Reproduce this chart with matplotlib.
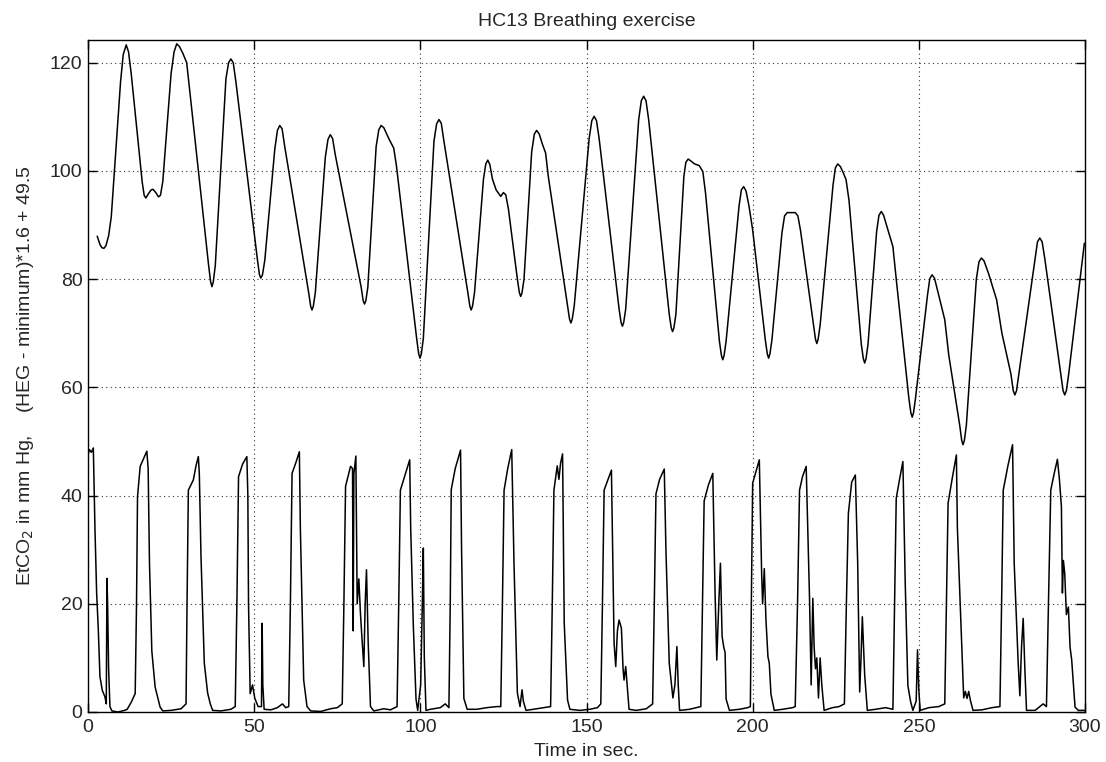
import matplotlib
matplotlib.use("Agg")
import matplotlib.pyplot as plt

plt.rcParams['font.family'] = ['Liberation Sans', 'DejaVu Sans']

title = "HC13 Breathing exercise"
xlabel = "Time in sec."
ylabel = r"EtCO$_2$ in mm Hg,    (HEG - minimum)*1.6 + 49.5"
xticks = [0, 50, 100, 150, 200, 250, 300]
yticks = [0, 20, 40, 60, 80, 100, 120]

heg_t = [2.8, 3.6, 4.2, 4.8, 5.4, 6.2, 7.0,
         9.8, 10.6, 11.5, 12.2, 13.0,
         16.3, 16.9, 17.4, 18.2, 19.0, 19.6, 20.4, 21.2, 21.8, 22.5,
         25.0, 25.9, 26.7, 27.5, 28.5, 29.7,
         36.3, 36.9, 37.3, 37.7, 38.3,
         41.5, 42.3, 43.0, 43.7, 44.5,
         51.0, 51.6, 52.0, 52.5, 53.2,
         56.2, 57.0, 57.7, 58.4, 59.2,
         66.4, 67.0, 67.4, 67.8, 68.4,
         71.4, 72.2, 72.9, 73.6, 74.4,
         82.2, 82.8, 83.2, 83.6, 84.2,
         86.7, 87.5, 88.2, 89.0, 90.5, 92.0, 92.8,
         98.9, 99.5, 99.9, 100.3, 100.9,
         104.1, 104.9, 105.6, 106.3, 107.1,
         114.3, 114.9, 115.3, 115.7, 116.3,
         119.0, 119.7, 120.3, 120.9, 121.7, 122.8, 124.2, 125.0, 125.7, 126.5,
         129.2, 129.8, 130.2, 130.6, 131.2,
         133.5, 134.3, 135.0, 135.8, 136.7, 137.7, 138.5,
         144.3, 144.9, 145.3, 145.7, 146.3,
         150.8, 151.6, 152.3, 153.0, 153.8,
         159.8, 160.4, 160.8, 161.2, 161.8,
         165.7, 166.5, 167.2, 167.9, 168.7,
         174.9, 175.5, 175.9, 176.3, 176.9,
         179.3, 179.9, 180.6, 181.5, 182.5, 183.9, 185.0, 185.8,
         190.0, 190.6, 191.0, 191.4, 192.0,
         195.9, 196.6, 197.3, 198.0, 198.9, 200.0,
         203.8, 204.4, 204.8, 205.2, 205.8,
         208.8, 209.6, 210.4, 212.8, 213.6, 214.4,
         218.3, 218.9, 219.3, 219.7, 220.3,
         224.2, 224.9, 225.6, 226.4, 227.3, 228.1, 229.0,
         232.7, 233.3, 233.7, 234.1, 234.7,
         237.3, 238.0, 238.7, 239.4, 240.5, 242.2, 243.2,
         247.0, 247.6, 248.0, 248.4, 249.0,
         252.6, 253.3, 254.0, 254.7, 255.8, 257.8, 259.0,
         262.3, 262.9, 263.3, 263.7, 264.3,
         267.3, 268.1, 268.8, 269.6, 271.0, 273.4, 275.0,
         277.7, 278.4, 278.9, 279.4, 280.1,
         285.0, 285.7, 286.4, 287.1, 287.9,
         292.7, 293.4, 293.9, 294.4, 295.1,
         299.8]
heg_v = [87.9, 86.4, 85.8, 85.7, 86.2, 88.0, 91.5,
         116.5, 121.5, 123.3, 122.0, 118.0,
         98.0, 95.5, 95.0, 95.8, 96.5, 96.6, 96.0, 95.2, 95.5, 98.0,
         118.0, 122.0, 123.5, 123.0, 121.8, 120.0,
         82.5, 79.5, 78.6, 79.5, 82.5,
         117.0, 120.0, 120.7, 120.0, 116.5,
         83.5, 80.8, 80.2, 80.8, 83.5,
         104.0, 107.5, 108.4, 107.8, 104.5,
         77.5, 75.0, 74.3, 75.0, 77.5,
         102.5, 105.8, 106.7, 106.0, 103.0,
         78.5, 76.0, 75.4, 76.0, 78.5,
         104.5, 107.6, 108.4, 108.0, 106.0, 104.2, 101.0,
         69.0, 66.2, 65.4, 66.2, 69.0,
         105.5, 108.7, 109.5, 108.8, 105.5,
         77.5, 75.0, 74.3, 75.0, 77.5,
         98.5, 101.3, 102.0, 101.2, 98.5, 96.5, 95.3, 96.0, 95.6, 93.0,
         80.0, 77.5, 76.8, 77.5, 80.0,
         103.5, 106.8, 107.5, 106.8, 105.0, 103.3, 99.0,
         75.0, 72.6, 71.9, 72.6, 75.0,
         106.0, 109.3, 110.1, 109.3, 106.0,
         74.5, 72.0, 71.3, 72.0, 74.5,
         109.5, 113.0, 113.8, 113.0, 109.5,
         73.5, 71.0, 70.3, 71.0, 73.5,
         99.0, 101.6, 102.2, 101.8, 101.3, 101.0, 99.9, 96.0,
         68.5, 65.9, 65.1, 65.9, 68.5,
         93.5, 96.5, 97.1, 96.3, 93.5, 89.1,
         68.8, 66.2, 65.4, 66.2, 68.8,
         88.5, 91.7, 92.3, 92.3, 91.7, 89.0,
         71.5, 68.9, 68.1, 68.9, 71.5,
         97.5, 100.6, 101.3, 100.8, 99.6, 98.4, 94.5,
         67.9, 65.3, 64.5, 65.3, 67.9,
         88.8, 91.8, 92.5, 91.8, 89.5, 86.0, 80.0,
         58.0, 55.3, 54.5, 55.3, 58.0,
         77.0, 80.1, 80.8, 80.2, 77.5, 72.5, 66.0,
         53.0, 50.2, 49.4, 50.2, 53.0,
         80.0, 83.2, 83.9, 83.4, 81.0, 76.2, 70.0,
         62.5, 59.4, 58.6, 59.4, 62.5,
         83.8, 86.9, 87.6, 86.9, 83.8,
         62.5, 59.4, 58.6, 59.4, 62.5,
         86.6]

co2_t = [0.0, 0.4, 1.0, 1.6, 2.1, 2.6, 3.1, 3.6, 4.3, 5.1, 5.5, 5.7, 5.9, 6.2, 6.6, 7.2, 9.0, 11.0, 11.8, 13.0, 14.2,
         14.6, 14.9, 15.7, 16.5, 17.7, 18.1, 18.5, 19.2, 20.2, 21.7, 22.5, 25.0, 28.0, 29.5,
         29.8, 30.2, 31.7, 32.5, 33.2, 33.5, 34.0, 35.0, 36.0, 36.8, 37.5, 40.0, 43.0, 44.3,
         44.8, 45.3, 46.5, 47.8, 48.1, 48.3, 48.8, 49.5, 50.2, 51.2, 52.2, 52.4, 52.6, 53.0, 55.0, 57.0, 58.5, 59.5, 60.4,
         60.9, 61.4, 62.5, 63.6, 63.9, 64.9, 65.9, 67.0, 70.0, 73.0, 75.0, 76.5,
         77.0, 77.5, 79.0, 79.6, 79.8, 80.0, 80.6, 81.0, 81.5, 82.0, 82.5, 83.0, 83.4, 83.8, 84.3, 85.0, 86.0, 89.0, 91.0, 93.0,
         93.5, 94.0, 95.5, 96.8, 97.1, 97.9, 98.7, 99.2, 100.1, 100.6, 100.9, 101.2, 101.7, 103.0, 106.0, 107.5, 108.6,
         109.0, 109.3, 110.5, 112.1, 112.4, 113.1, 114.1, 117.0, 120.0, 123.0, 124.2,
         124.7, 125.2, 126.3, 127.5, 128.2, 129.2, 130.0, 130.6, 131.0, 131.8, 134.0, 137.0, 139.2,
         139.7, 140.2, 141.2, 141.7, 142.2, 142.8, 143.3, 144.3, 145.0, 148.0, 151.0, 153.3, 154.3,
         154.8, 155.3, 156.5, 157.5, 158.3, 158.8, 159.3, 159.8, 160.5, 161.0, 161.3, 161.8, 162.8, 165.0, 168.0, 169.9,
         170.4, 170.9, 172.0, 173.4, 173.9, 174.9, 176.0, 176.6, 177.2, 177.6, 178.0, 181.0, 183.0, 184.4,
         184.9, 185.4, 186.7, 188.0, 188.7, 189.2, 189.8, 190.3, 190.8, 191.3, 191.7, 192.0, 193.0, 196.0, 198.5, 199.3,
         199.6, 200.0, 202.0, 202.7, 203.0, 203.5, 204.0, 204.6, 205.0, 205.5, 206.5, 209.0, 212.0, 212.8,
         213.5, 214.1, 215.0, 216.1, 217.1, 217.6, 218.1, 218.5, 218.9, 219.3, 219.8, 220.3, 220.8, 221.5, 224.0, 226.0, 227.6,
         228.2, 228.8, 229.8, 230.9, 231.6, 232.2, 232.6, 233.0, 233.7, 234.5, 237.0, 240.0, 242.2,
         242.7, 243.2, 244.2, 245.2, 245.9, 246.7, 247.5, 248.2, 249.2, 249.6, 250.0, 250.4, 253.0, 256.0, 257.8,
         258.3, 258.8, 260.0, 261.3, 261.6, 263.1, 263.5, 264.0, 264.5, 265.0, 265.5, 266.3, 269.0, 272.0, 274.4,
         274.9, 275.4, 276.8, 278.2, 278.7, 279.9, 280.4, 280.9, 281.4, 281.9, 282.4, 285.0, 287.4, 288.4,
         289.0, 289.7, 290.7, 291.7, 292.3, 292.9, 293.2, 293.5, 293.9, 294.4, 295.0, 295.5, 296.0, 297.0, 298.0, 300.0]
co2_v = [47.5, 48.5, 48.0, 48.8, 33.7, 22.0, 15.2, 6.5, 4.0, 2.8, 1.5, 24.7, 20.0, 8.0, 1.0, 0.2, 0.0, 0.3, 0.5, 1.8, 3.4,
         20.0, 39.8, 45.4, 46.5, 48.2, 45.0, 27.5, 11.3, 4.6, 0.9, 0.2, 0.3, 0.6, 1.5,
         20.0, 41.0, 42.9, 45.5, 47.2, 44.0, 28.7, 9.0, 3.5, 1.5, 0.3, 0.2, 0.5, 1.0,
         20.0, 43.5, 45.8, 47.2, 40.0, 20.0, 3.4, 5.0, 2.5, 1.0, 1.0, 16.4, 5.0, 0.5, 0.4, 0.8, 1.5, 0.8, 1.0,
         20.0, 44.1, 46.0, 48.1, 34.0, 5.9, 1.0, 0.2, 0.1, 0.6, 0.8, 1.5,
         20.0, 41.7, 45.4, 45.0, 15.0, 44.0, 47.3, 20.0, 24.6, 18.0, 13.0, 8.4, 20.0, 26.3, 13.0, 1.0, 0.2, 0.6, 0.4, 1.0,
         20.0, 41.0, 44.0, 46.6, 34.0, 15.8, 2.4, 0.3, 5.0, 20.0, 30.3, 10.0, 0.3, 0.5, 0.8, 1.5, 0.8,
         20.0, 41.1, 45.0, 48.4, 30.5, 2.5, 0.5, 0.5, 0.8, 1.0, 1.0,
         20.0, 41.0, 45.0, 48.5, 27.0, 3.5, 1.0, 4.1, 2.0, 0.3, 0.5, 0.8, 1.0,
         20.0, 41.0, 45.5, 43.0, 46.0, 47.7, 16.4, 2.2, 0.5, 0.3, 0.5, 0.8, 1.5,
         20.0, 41.0, 43.0, 44.7, 12.7, 8.4, 15.0, 17.0, 15.5, 8.0, 5.9, 8.4, 0.5, 0.3, 0.6, 1.5,
         20.0, 40.3, 43.0, 44.9, 30.0, 9.0, 2.6, 5.0, 12.1, 5.0, 0.3, 0.5, 0.8, 1.0,
         20.0, 39.0, 42.0, 44.1, 21.6, 9.6, 20.0, 27.5, 14.0, 12.0, 11.0, 2.4, 0.3, 0.5, 0.8, 1.0,
         20.0, 42.3, 46.6, 25.7, 20.0, 26.5, 17.0, 10.2, 9.0, 3.3, 0.3, 0.5, 0.8, 1.0,
         20.0, 41.0, 43.5, 45.4, 21.3, 5.0, 21.0, 12.0, 8.0, 10.0, 2.6, 10.0, 5.0, 0.3, 0.8, 1.0, 1.5,
         20.0, 36.7, 42.5, 43.8, 27.5, 3.7, 10.0, 17.6, 6.9, 0.3, 0.5, 0.8, 0.5,
         20.0, 39.5, 43.0, 46.3, 24.0, 4.9, 2.0, 0.3, 2.0, 11.5, 4.0, 0.3, 0.8, 1.0, 1.5,
         20.0, 38.6, 43.0, 47.5, 34.0, 9.0, 2.6, 3.8, 2.5, 3.8, 2.2, 0.3, 0.4, 0.8, 1.0,
         20.0, 41.0, 45.5, 49.4, 27.4, 9.0, 3.0, 12.0, 17.3, 8.0, 0.3, 0.3, 1.5, 1.0,
         20.0, 41.0, 44.0, 46.7, 43.0, 38.0, 22.0, 28.0, 25.6, 18.0, 19.4, 12.0, 9.6, 0.9, 0.3, 0.3]

fig = plt.figure(figsize=(11.06, 7.62), dpi=100)
ax = fig.add_axes([88/1106, 1-712/762, (1085-88)/1106, (712-40)/762])

ax.plot(heg_t, heg_v, color='black', lw=1.1)
ax.plot(co2_t, co2_v, color='black', lw=1.1)

ax.set_xlim(0, 300)
ax.set_ylim(0, 124.2)
ax.set_xticks(xticks)
ax.set_yticks(yticks)
ax.set_xticklabels([str(v) for v in xticks])
ax.set_yticklabels([str(v) for v in yticks])
ax.tick_params(direction='in', length=6.5, width=1, top=True, right=True,
               labelsize=14, colors='black', labelcolor='0.15')
ax.tick_params(axis='x', pad=5)
ax.tick_params(axis='y', pad=4)
ax.grid(True, color='0.2', lw=0.8, linestyle=(0, (1, 3)))
for s in ax.spines.values():
    s.set_linewidth(1.0)
    s.set_color('black')

fig.text((88+1085)/2/1106, 1-21/762, title, ha='center', va='center', fontsize=14, color='0.15')
fig.text((88+1085)/2/1106, 1-751/762, xlabel, ha='center', va='center', fontsize=14, color='0.15')
fig.text(26/1106, 1-376/762, ylabel, ha='center', va='center', rotation=90, fontsize=14, color='0.15')

fig.savefig("out.png", dpi=100, facecolor='white')
